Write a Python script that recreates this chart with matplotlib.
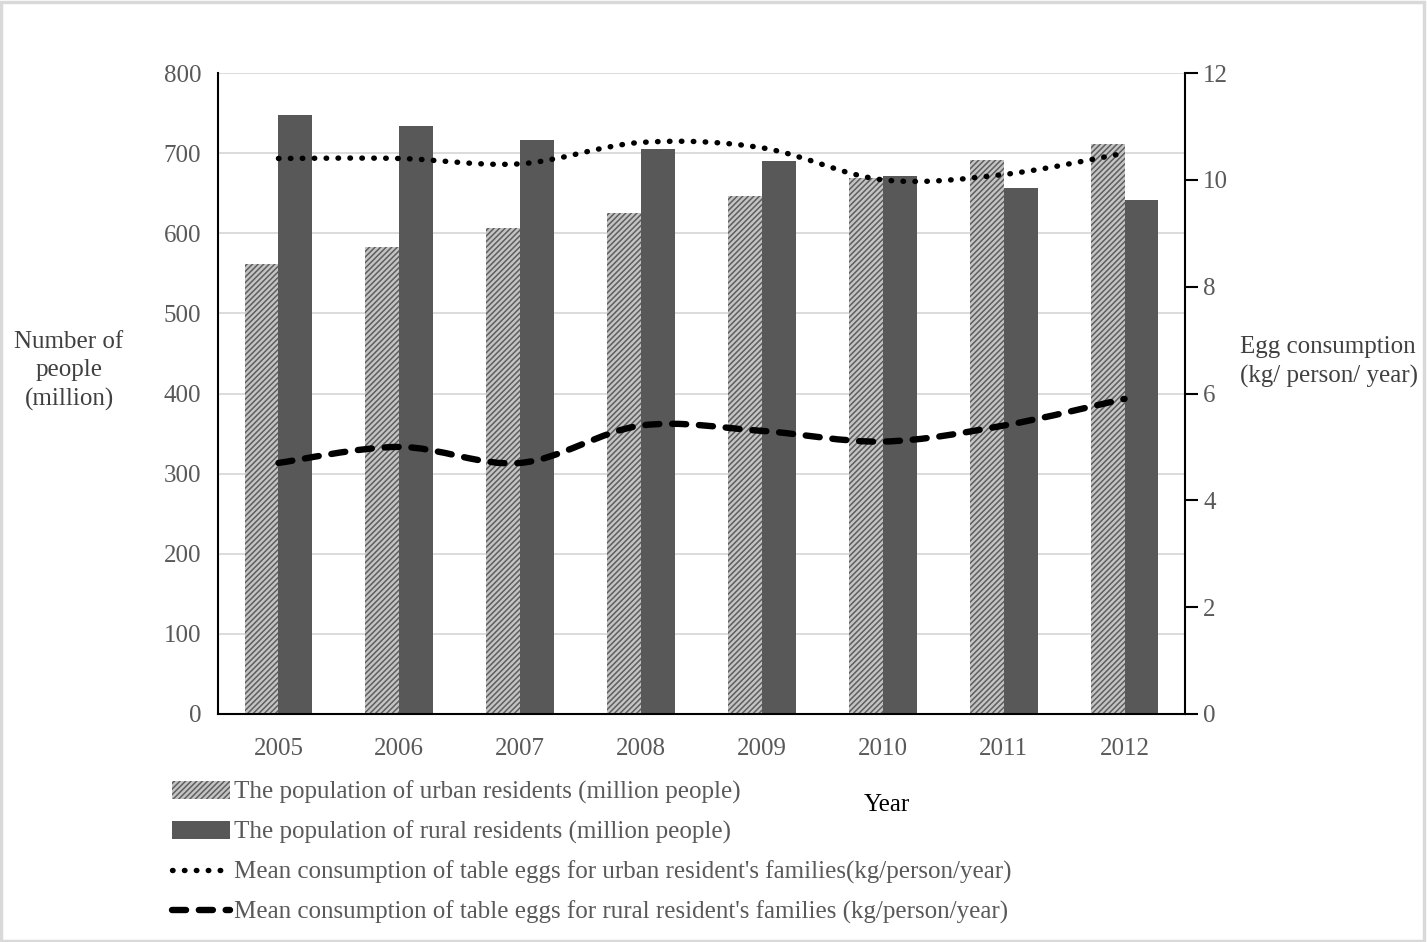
import numpy as np
import matplotlib
matplotlib.use("Agg")
import matplotlib.pyplot as plt
from matplotlib.path import Path
from matplotlib.patches import PathPatch, Patch, Rectangle
from matplotlib.lines import Line2D

years = ["2005", "2006", "2007", "2008", "2009", "2010", "2011", "2012"]
urban_pop = [562, 583, 607, 625, 646, 669, 691, 712]
rural_pop = [748, 734, 717, 705, 690, 671, 657, 642]
urban_egg = [10.4, 10.4, 10.3, 10.7, 10.6, 10.0, 10.1, 10.5]
rural_egg = [4.7, 5.0, 4.7, 5.4, 5.3, 5.1, 5.4, 5.9]

labels = [
    "The population of urban residents (million people)",
    "The population of rural residents (million people)",
    "Mean consumption of table eggs for urban resident's families(kg/person/year)",
    "Mean consumption of table eggs for rural resident's families (kg/person/year)",
]

plt.rcParams['font.family'] = ['Liberation Serif', 'DejaVu Serif']
plt.rcParams['hatch.linewidth'] = 1.1
TXT = '#595959'
FS = 18

fig = plt.figure(figsize=(14.27, 9.42), dpi=100)
fig.patches.append(Rectangle((0.001, 0.001), 0.997, 0.997, transform=fig.transFigure,
                             fill=False, edgecolor='#d9d9d9', linewidth=2.5))
ax = fig.add_axes([218/1427, 1-714/942, (1185-218)/1427, (714-73)/942])
ax2 = ax.twinx()

x = np.arange(len(years))
w = 0.28
URB_FACE, URB_HATCH = '#c4c4c4', '#5e5e5e'
RUR = '#585858'
b1 = ax.bar(x - w/2, urban_pop, w, facecolor=URB_FACE, edgecolor=URB_HATCH,
            hatch='//////', linewidth=0, zorder=2)
b2 = ax.bar(x + w/2, rural_pop, w, facecolor=RUR, edgecolor=RUR,
            linewidth=0, zorder=2)

ax.set_xlim(-0.5, len(years) - 0.5)
ax.set_ylim(0, 800)
ax.set_yticks(range(0, 801, 100))
ax.set_xticks(x)
ax.set_xticklabels(years)
ax.yaxis.grid(True, color='#d9d9d9', linewidth=1.3, zorder=0)
ax.set_axisbelow(True)
ax.tick_params(axis='both', length=0, labelsize=FS, labelcolor=TXT)
ax.tick_params(axis='x', pad=17)
ax.tick_params(axis='y', pad=12)
for s in ['top', 'right']:
    ax.spines[s].set_visible(False)
for s in ['left', 'bottom']:
    ax.spines[s].set_color('black')
    ax.spines[s].set_linewidth(1.5)

ax2.set_ylim(0, 12)
ax2.set_yticks(range(0, 13, 2))
ax2.tick_params(axis='y', direction='out', length=9, width=1.5, labelsize=FS,
                labelcolor=TXT, pad=4)
for s in ['top', 'left', 'bottom']:
    ax2.spines[s].set_visible(False)
ax2.spines['right'].set_color('black')
ax2.spines['right'].set_linewidth(1.5)


def smooth_path(xs, ys):
    xs = np.asarray(xs, float)
    ys = np.asarray(ys, float)
    pts = np.column_stack([xs, ys])
    n = len(pts)
    verts = [pts[0]]
    codes = [Path.MOVETO]
    for i in range(n - 1):
        p0 = pts[i - 1] if i > 0 else pts[i]
        p1 = pts[i]
        p2 = pts[i + 1]
        p3 = pts[i + 2] if i + 2 < n else pts[i + 1]
        c1 = p1 + (p2 - p0) / 6.0
        c2 = p2 - (p3 - p1) / 6.0
        verts += [c1, c2, p2]
        codes += [Path.CURVE4] * 3
    return Path(verts, codes)


dot_ls, dot_lw = (0, (0.1, 2.1)), 3.9
dash_ls, dash_lw = (0, (2.2, 2.0)), 4.6

p1 = PathPatch(smooth_path(x, urban_egg), fill=False, zorder=5, edgecolor='black',
               linestyle=dot_ls, linewidth=dot_lw, capstyle='round')
ax2.add_patch(p1)
p2 = PathPatch(smooth_path(x, rural_egg), fill=False, zorder=5, edgecolor='black',
               linestyle=dash_ls, linewidth=dash_lw, capstyle='round')
ax2.add_patch(p2)

fig.text(69/1427, 1-371/942, "Number of\npeople\n(million)", ha='center', va='center',
         fontsize=FS, color='#404040', linespacing=1.4)
fig.text(1240/1427, 1-362/942, "Egg consumption\n(kg/ person/ year)", ha='left', va='center',
         fontsize=FS, color='#404040', linespacing=1.4)
fig.text(887/1427, 1-805/942, "Year", ha='center', va='center', fontsize=FS, color='black')

handles = [
    Patch(facecolor=URB_FACE, edgecolor=URB_HATCH, hatch='//////', linewidth=0),
    Patch(facecolor=RUR, edgecolor=RUR, linewidth=0),
    Line2D([], [], color='black', linestyle=dot_ls, linewidth=dot_lw, dash_capstyle='round'),
    Line2D([], [], color='black', linestyle=dash_ls, linewidth=dash_lw, dash_capstyle='round'),
]
fig.legend(handles, labels, loc='upper left', bbox_to_anchor=(172/1427, 1-781/942),
           frameon=False, fontsize=FS, labelcolor=TXT, handlelength=2.3,
           handletextpad=0.16, labelspacing=0.66, borderaxespad=0, borderpad=0)

fig.savefig("out.png", dpi=100)
